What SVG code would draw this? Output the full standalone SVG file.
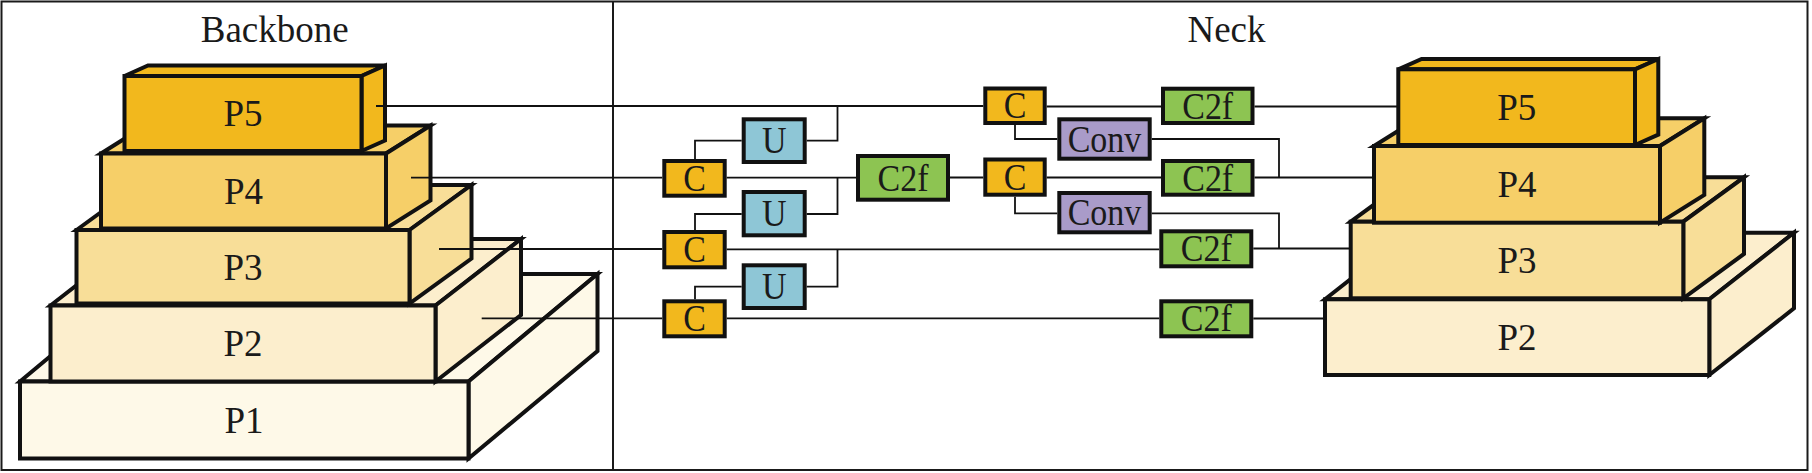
<svg xmlns="http://www.w3.org/2000/svg" width="1812" height="473" viewBox="0 0 1812 473">
<style>
.frame{fill:none;stroke:#1a1a1a;stroke-width:2}
.face{stroke:#111;stroke-width:4;stroke-linejoin:miter}
.p5{fill:#F2B81D}.p4{fill:#F6CF68}.p3{fill:#F8DE98}.p2{fill:#FCEECD}.p1{fill:#FEF9E8}
.box{stroke:#111;stroke-width:4}
.org{fill:#F2B81D}.grn{fill:#8DC452}.blu{fill:#8EC6D6}.pur{fill:#A99BC9}
.ln{fill:none;stroke:#111;stroke-width:1.8}
.t{font-family:"Liberation Serif","Times New Roman",serif;fill:#1a1a1a;text-anchor:middle}
.title{font-size:37px}
.plab{font-size:37px}
.nlab{font-size:34px}
</style>

<g id="frame">
<rect class="frame" x="1.5" y="1.5" width="1806" height="468.5"/>
<line class="frame" x1="613" y1="1.5" x2="613" y2="470"/>
<text class="t title" x="274.7" y="41.5">Backbone</text>
<text class="t title" x="1226.5" y="41.5">Neck</text>
</g>

<!-- Backbone pyramid -->
<g id="backbone-P1">
<polygon class="face p1" points="20,381.5 149,274 597.5,274 468.5,381.5"/>
<polygon class="face p1" points="468.5,381.5 597.5,274 597.5,351 468.5,458.5"/>
<rect class="face p1" x="20" y="381.5" width="448.5" height="77"/>
<text class="t plab" x="244" y="432.5">P1</text>
</g>
<g id="backbone-P2">
<polygon class="face p2" points="50.5,305.5 136,239 521,239 435.5,305.5"/>
<polygon class="face p2" points="435.5,305.5 521,239 521,315 435.5,381.5"/>
<rect class="face p2" x="50.5" y="305.5" width="385" height="76"/>
<text class="t plab" x="243" y="356">P2</text>
</g>
<g id="backbone-P3">
<polygon class="face p3" points="76.5,230 138.5,185 471.5,185 409.5,230"/>
<polygon class="face p3" points="409.5,230 471.5,185 471.5,258.5 409.5,303.5"/>
<rect class="face p3" x="76.5" y="230" width="333" height="73.5"/>
<text class="t plab" x="243" y="279.5">P3</text>
</g>
<g id="backbone-P4">
<polygon class="face p4" points="101,153.5 145.5,125.5 430.5,125.5 386,153.5"/>
<polygon class="face p4" points="386,153.5 430.5,125.5 430.5,200.5 386,228.5"/>
<rect class="face p4" x="101" y="153.5" width="285" height="75"/>
<text class="t plab" x="243.5" y="203.5">P4</text>
</g>
<g id="backbone-P5">
<polygon class="face p5" points="124.5,76 148,65.5 385,65.5 361.5,76"/>
<polygon class="face p5" points="361.5,76 385,65.5 385,140.5 361.5,151"/>
<rect class="face p5" x="124.5" y="76" width="237" height="75"/>
<text class="t plab" x="243" y="126.3">P5</text>
</g>

<!-- Output pyramid -->
<g id="out-P2">
<polygon class="face p2" points="1325,299.3 1409.7,232.7 1794,232.7 1709.3,299.3"/>
<polygon class="face p2" points="1709.3,299.3 1794,232.7 1794,308.4 1709.3,375"/>
<rect class="face p2" x="1325" y="299.3" width="384.3" height="75.7"/>
<text class="t plab" x="1517" y="349.5">P2</text>
</g>
<g id="out-P3">
<polygon class="face p3" points="1350.7,221.7 1411.4,177.3 1744,177.3 1683.3,221.7"/>
<polygon class="face p3" points="1683.3,221.7 1744,177.3 1744,253.9 1683.3,298.3"/>
<rect class="face p3" x="1350.7" y="221.7" width="332.6" height="76.6"/>
<text class="t plab" x="1517" y="272.5">P3</text>
</g>
<g id="out-P4">
<polygon class="face p4" points="1374,146 1418.3,118.3 1704.3,118.3 1660,146"/>
<polygon class="face p4" points="1660,146 1704.3,118.3 1704.3,195 1660,222.7"/>
<rect class="face p4" x="1374" y="146" width="286" height="76.7"/>
<text class="t plab" x="1517" y="196.8">P4</text>
</g>
<g id="out-P5">
<polygon class="face p5" points="1398.3,69.3 1421.6,59 1658.3,59 1635,69.3"/>
<polygon class="face p5" points="1635,69.3 1658.3,59 1658.3,134.7 1635,145"/>
<rect class="face p5" x="1398.3" y="69.3" width="236.7" height="75.7"/>
<text class="t plab" x="1516.7" y="119.5">P5</text>
</g>

<!-- Connectors -->
<g id="connectors">
<path class="ln" d="M376 106 H983.3"/>
<path class="ln" d="M837.5 106 V140.7 H806.7"/>
<path class="ln" d="M741.7 140.7 H695 V159"/>
<path class="ln" d="M1046.7 106.5 H1161"/>
<path class="ln" d="M1254.5 106.5 H1398.3"/>

<path class="ln" d="M411 177.7 H662.3"/>
<path class="ln" d="M726.7 177.7 H856"/>
<path class="ln" d="M837.5 177.7 V214 H806.7"/>
<path class="ln" d="M741.7 214 H695 V230"/>
<path class="ln" d="M950 177.5 H983.3"/>
<path class="ln" d="M1046.7 177.5 H1161"/>
<path class="ln" d="M1254.5 177.5 H1374"/>
<path class="ln" d="M1015 125 V139 H1057.3"/>
<path class="ln" d="M1151.7 139 H1279 V177.5"/>
<path class="ln" d="M1015 196.7 V213.3 H1057.3"/>
<path class="ln" d="M1151.7 213.3 H1279 V248.5"/>

<path class="ln" d="M439 249 H662.3"/>
<path class="ln" d="M726.7 249.3 H1159.3"/>
<path class="ln" d="M837.5 249.3 V286.7 H806.7"/>
<path class="ln" d="M741.7 286.7 H695 V299.3"/>
<path class="ln" d="M1253.3 248.5 H1350.7"/>

<path class="ln" d="M481.7 318.3 H662.3"/>
<path class="ln" d="M726.7 318.3 H1159.3"/>
<path class="ln" d="M1253.3 318.5 H1325"/>
</g>

<!-- Neck nodes -->
<g id="C1"><rect class="box org" x="664.3" y="161" width="60.4" height="34.7"/><text class="t nlab" transform="translate(694.5,190.9) scale(1,1.12)">C</text></g>
<g id="C2"><rect class="box org" x="664.3" y="232" width="60.4" height="35.3"/><text class="t nlab" transform="translate(694.5,262.3) scale(1,1.12)">C</text></g>
<g id="C3"><rect class="box org" x="664.3" y="301.3" width="60.4" height="35"/><text class="t nlab" transform="translate(694.5,331.4) scale(1,1.12)">C</text></g>
<g id="U1"><rect class="box blu" x="743.7" y="119.3" width="61" height="42.7"/><text class="t nlab" transform="translate(774.2,153.3) scale(1,1.12)">U</text></g>
<g id="U2"><rect class="box blu" x="743.7" y="192" width="61" height="43.3"/><text class="t nlab" transform="translate(774.2,226.3) scale(1,1.12)">U</text></g>
<g id="U3"><rect class="box blu" x="743.7" y="265.3" width="61" height="42.7"/><text class="t nlab" transform="translate(774.2,299.3) scale(1,1.12)">U</text></g>
<g id="C2f-L"><rect class="box grn" x="858" y="156" width="90" height="43.7"/><text class="t nlab" transform="translate(903,190.5) scale(1,1.12)">C2f</text></g>
<g id="C4"><rect class="box org" x="985.3" y="88.5" width="59.4" height="34.5"/><text class="t nlab" transform="translate(1015,118.4) scale(1,1.12)">C</text></g>
<g id="C5"><rect class="box org" x="985.3" y="159.5" width="59.4" height="35.2"/><text class="t nlab" transform="translate(1015,189.7) scale(1,1.12)">C</text></g>
<g id="Conv1"><rect class="box pur" x="1059.3" y="119.3" width="90.4" height="39.4"/><text class="t nlab" transform="translate(1104.5,151.6) scale(1,1.12)">Conv</text></g>
<g id="Conv2"><rect class="box pur" x="1059.3" y="193" width="90.4" height="39.3"/><text class="t nlab" transform="translate(1104.5,225.3) scale(1,1.12)">Conv</text></g>
<g id="C2f-1"><rect class="box grn" x="1163" y="88.7" width="89.5" height="34.3"/><text class="t nlab" transform="translate(1207.7,118.5) scale(1,1.12)">C2f</text></g>
<g id="C2f-2"><rect class="box grn" x="1163" y="161" width="89.5" height="33.7"/><text class="t nlab" transform="translate(1207.7,190.5) scale(1,1.12)">C2f</text></g>
<g id="C2f-3"><rect class="box grn" x="1161.3" y="231.3" width="90" height="35"/><text class="t nlab" transform="translate(1206.3,261.4) scale(1,1.12)">C2f</text></g>
<g id="C2f-4"><rect class="box grn" x="1161.3" y="301.3" width="90" height="35"/><text class="t nlab" transform="translate(1206.3,331.4) scale(1,1.12)">C2f</text></g>
</svg>
